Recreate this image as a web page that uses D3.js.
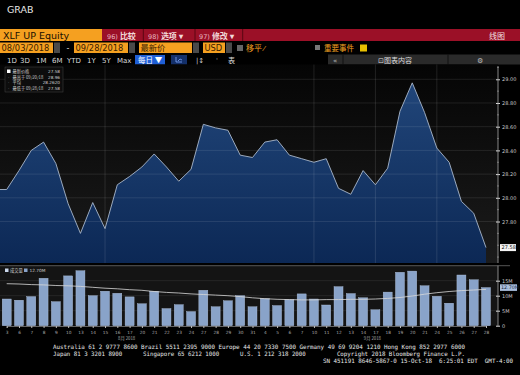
<!DOCTYPE html>
<html lang="zh">
<head>
    <meta charset="UTF-8">
    <title>XLF UP Equity</title>
    <script src="https://d3js.org/d3.v7.min.js"></script>
    <style>
        body { margin: 0; background: #000; }
        svg { display: block; }
    </style>
</head>
<body>
    <svg></svg>
    <script>
        // chart data
        const dates = [
            "2018-08-03", "2018-08-06", "2018-08-07", "2018-08-08", "2018-08-09", "2018-08-10",
            "2018-08-13", "2018-08-14", "2018-08-15", "2018-08-16", "2018-08-17",
            "2018-08-20", "2018-08-21", "2018-08-22", "2018-08-23", "2018-08-24",
            "2018-08-27", "2018-08-28", "2018-08-29", "2018-08-30", "2018-08-31",
            "2018-09-04", "2018-09-05", "2018-09-06", "2018-09-07",
            "2018-09-10", "2018-09-11", "2018-09-12", "2018-09-13", "2018-09-14",
            "2018-09-17", "2018-09-18", "2018-09-19", "2018-09-20", "2018-09-21",
            "2018-09-24", "2018-09-25", "2018-09-26", "2018-09-27", "2018-09-28"
        ];
        const prices = [
            28.07, 28.23, 28.40, 28.47, 28.29, 27.95,
            27.70, 27.96, 27.74, 28.11, 28.18,
            28.26, 28.37, 28.26, 28.14, 28.24,
            28.62, 28.59, 28.57, 28.36, 28.34,
            28.47, 28.49, 28.36, 28.33,
            28.30, 28.33, 28.08, 28.03, 28.23,
            28.11, 28.25, 28.73, 28.97, 28.72,
            28.42, 28.30, 27.97, 27.87, 27.58
        ];
        // volume, millions of shares
        const volumes = [
            8.9, 8.5, 9.7, 15.8, 8.0, 16.6,
            18.3, 10.0, 11.5, 10.8, 9.6,
            7.3, 11.5, 5.7, 7.0, 4.7,
            11.8, 6.3, 8.3, 10.0, 6.3,
            9.0, 6.7, 8.7, 10.6,
            8.9, 6.9, 13.0, 10.7, 9.3,
            5.3, 11.2, 17.8, 18.2, 13.3,
            9.8, 7.5, 16.9, 15.3, 12.7
        ];
        // volume moving average as drawn
        const volumeAvg = [
            14.0, 13.9, 13.7, 13.6, 13.4, 13.3,
            13.1, 12.8, 12.5, 12.3, 12.0,
            11.8, 11.4, 11.1, 10.9, 10.6,
            10.4, 10.2, 10.0, 9.7, 9.3,
            9.0, 8.8, 8.7, 8.6,
            8.6, 8.7, 8.7, 8.8, 8.8,
            8.9, 9.1, 9.4, 9.9, 10.5,
            11.0, 11.4, 11.7, 11.9, 12.1
        ];
        const priceTicks = [27.8, 28.0, 28.2, 28.4, 28.6, 28.8, 29.0];
        const volumeTicks = [0, 5, 10, 15];
        const volumeTickLabels = ["0", "5M", "10M", "15M"];
        const gridDates = ["2018-08-15", "2018-09-10", "2018-09-17", "2018-09-24"];
        const monthLabelDates = ["2018-08-17", "2018-09-17"];
        const monthLabelTexts = ["8月 2018", "9月 2018"];
        const legendNames = ["最新价格", "最高于 09/20/18", "平均", "最低于 09/28/18"];
        const legendValues = ["27.58", "28.96", "28.2620", "27.58"];
        const footerLines = [
            "Australia 61 2 9777 8600 Brazil 5511 2395 9000 Europe 44 20 7330 7500 Germany 49 69 9204 1210 Hong Kong 852 2977 6000",
            "Japan 81 3 3201 8900      Singapore 65 6212 1000      U.S. 1 212 318 2000         Copyright 2018 Bloomberg Finance L.P.",
            "SN 451191 8646-5867-0 15-Oct-18  6:25:01 EDT  GMT-4:00"
        ];

        const width = 520;
        const height = 375;
        const axisX = 498;
        const cjk = "'Noto Sans CJK SC', sans-serif";
        const sans = "'DejaVu Sans', sans-serif";
        const mono = "'DejaVu Sans Mono', monospace";

        const svg = d3.select("svg")
            .attr("width", width)
            .attr("height", height)
            .style("background", "#000");

        const parse = d3.timeParse("%Y-%m-%d");
        const data = dates.map((d, i) => ({
            date: d, day: d3.timeFormat("%-d")(parse(d)),
            price: prices[i], volume: volumes[i], avg: volumeAvg[i]
        }));

        const x = d3.scalePoint().domain(dates).range([6.7, 486]);
        const y = d3.scaleLinear().domain([27.45, 29.129]).range([263, 64]);
        const yv = d3.scaleLinear().domain([0, 20]).range([325.7, 265.7]);

        const defs = svg.append("defs");
        const bg = defs.append("linearGradient").attr("id", "bg")
            .attr("x1", 0).attr("y1", 0).attr("x2", 0).attr("y2", 1);
        bg.append("stop").attr("offset", 0).attr("stop-color", "#050505");
        bg.append("stop").attr("offset", 1).attr("stop-color", "#1b1b1b");
        const fill = defs.append("linearGradient").attr("id", "areaFill")
            .attr("gradientUnits", "userSpaceOnUse")
            .attr("x1", 0).attr("y1", 80).attr("x2", 0).attr("y2", 263);
        fill.append("stop").attr("offset", 0).attr("stop-color", "#21467a");
        fill.append("stop").attr("offset", 1).attr("stop-color", "#0c2855");

        // ---- header ----
        svg.append("text").attr("x", 7).attr("y", 13)
            .attr("font-family", sans).attr("font-size", 9.5)
            .attr("fill", "#e6e6e6").text("GRAB");

        svg.append("rect").attr("x", 0).attr("y", 29).attr("width", width).attr("height", 12)
            .attr("fill", "#9b1027");
        svg.append("rect").attr("x", 0).attr("y", 29).attr("width", 102).attr("height", 12)
            .attr("fill", "#f5a020");
        svg.append("text").attr("x", 3).attr("y", 38.8)
            .attr("font-family", sans).attr("font-size", 9.5).attr("fill", "#201000")
            .text("XLF UP Equity");
        [143.3, 195, 242.7].forEach(sx => {
            svg.append("line").attr("x1", sx).attr("x2", sx).attr("y1", 29).attr("y2", 41)
                .attr("stroke", "#5a0612").attr("stroke-width", 1);
        });
        const menu = [
            { num: "96)", label: "比较", x: 107 },
            { num: "98)", label: "选项 ▾", x: 148 },
            { num: "97)", label: "修改 ▾", x: 199 }
        ];
        menu.forEach(m => {
            const t = svg.append("text").attr("x", m.x).attr("y", 38.5)
                .attr("fill", "#f2dada").attr("font-size", 8);
            t.append("tspan").attr("font-family", sans).attr("font-size", 6.5).attr("fill", "#e8b8c0").text(m.num + " ");
            t.append("tspan").attr("font-family", cjk).attr("font-weight", "bold").text(m.label);
        });
        svg.append("text").attr("x", 489).attr("y", 38.5)
            .attr("font-family", cjk).attr("font-size", 8).attr("fill", "#f2e0e0").text("线图");

        // second row: date range & fields
        const orange = "#f5a020";
        const row2 = [
            { x: 0, w: 53, text: "08/03/2018" },
            { x: 74, w: 54, text: "09/28/2018" },
            { x: 139, w: 53, text: "最新价" },
            { x: 203, w: 22, text: "USD" }
        ];
        row2.forEach(b => {
            svg.append("rect").attr("x", b.x).attr("y", 42.5).attr("width", b.w).attr("height", 10.5)
                .attr("fill", orange);
            svg.append("text").attr("x", b.x + 1.5).attr("y", 51)
                .attr("font-family", /[\u4e00-\u9fff]/.test(b.text) ? cjk : sans)
                .attr("font-size", 8.3).attr("fill", "#3a2000").text(b.text);
        });
        [54, 129, 193, 226].forEach(gx => {
            svg.append("rect").attr("x", gx).attr("y", 42.5).attr("width", 6).attr("height", 10.5)
                .attr("fill", "#4a4a4a");
        });
        svg.append("text").attr("x", 66.5).attr("y", 51).attr("font-family", sans)
            .attr("font-size", 8).attr("fill", "#ddd").text("-");
        svg.append("rect").attr("x", 237).attr("y", 45).attr("width", 6).attr("height", 6).attr("fill", "#666");
        svg.append("text").attr("x", 246).attr("y", 51).attr("font-family", cjk)
            .attr("font-size", 8).attr("fill", orange).text("移平 ⁄");
        svg.append("rect").attr("x", 315).attr("y", 45).attr("width", 5).attr("height", 5).attr("fill", "#777");
        svg.append("text").attr("x", 324).attr("y", 51).attr("font-family", cjk)
            .attr("font-size", 7.5).attr("fill", orange).text("重要事件");
        svg.append("rect").attr("x", 360).attr("y", 44.5).attr("width", 7).attr("height", 7).attr("fill", "#e8c000");

        // third row: range buttons
        const ranges = ["1D", "3D", "1M", "6M", "YTD", "1Y", "5Y", "Max"];
        const rangeX = [7, 20, 36, 52, 67, 87, 102, 117];
        ranges.forEach((r, i) => {
            svg.append("text").attr("x", rangeX[i]).attr("y", 62.5)
                .attr("font-family", sans).attr("font-size", 7).attr("fill", "#d8d8d8").text(r);
        });
        svg.append("rect").attr("x", 135).attr("y", 55).attr("width", 30).attr("height", 9.5).attr("fill", "#1f5fd6");
        svg.append("text").attr("x", 138).attr("y", 62.8).attr("font-family", cjk)
            .attr("font-size", 7.5).attr("fill", "#fff").text("每日 ▼");
        svg.append("rect").attr("x", 171).attr("y", 55).attr("width", 16).attr("height", 9.5).attr("fill", "#14306a");
        svg.append("path").attr("d", "M176,57 v5 h6 M178,61 l2,-2 l2,1")
            .attr("fill", "none").attr("stroke", "#7fa8ff").attr("stroke-width", 0.8);
        svg.append("text").attr("x", 196).attr("y", 62.5).attr("font-family", sans)
            .attr("font-size", 7).attr("fill", "#ccc").text("|↕");
        svg.append("text").attr("x", 216).attr("y", 62.5).attr("font-family", sans)
            .attr("font-size", 7).attr("fill", "#888").text("'");
        svg.append("text").attr("x", 228).attr("y", 62.8).attr("font-family", cjk)
            .attr("font-size", 7).attr("fill", "#ddd").text("表");
        svg.append("rect").attr("x", 328).attr("y", 54.5).attr("width", 192).attr("height", 10).attr("fill", "#2a2a2a");
        [343, 448].forEach(sx => {
            svg.append("line").attr("x1", sx).attr("x2", sx).attr("y1", 54.5).attr("y2", 64.5)
                .attr("stroke", "#111");
        });
        svg.append("text").attr("x", 333).attr("y", 62.5).attr("font-family", sans)
            .attr("font-size", 7).attr("fill", "#bbb").text("«");
        svg.append("text").attr("x", 378).attr("y", 62.5).attr("font-family", cjk)
            .attr("font-size", 7).attr("fill", "#ddd").text("⊡图表内容");
        svg.append("text").attr("x", 477).attr("y", 62.8).attr("font-family", sans)
            .attr("font-size", 7).attr("fill", "#bbb").text("⚙");

        // ---- price panel ----
        svg.append("rect").attr("x", 0).attr("y", 64.5).attr("width", axisX).attr("height", 198.5)
            .attr("fill", "url(#bg)");

        // the series is drawn from the left edge of the panel
        const seriesX = (d, i) => i === 0 ? 0 : x(d.date);
        const priceSeries = [data[0], ...data];

        const area = d3.area()
            .x(seriesX)
            .y0(263)
            .y1(d => y(d.price));
        svg.append("path").datum(priceSeries)
            .attr("d", area)
            .attr("fill", "url(#areaFill)");

        // grid
        svg.append("g").selectAll("line").data(priceTicks).join("line")
            .attr("x1", 0).attr("x2", axisX)
            .attr("y1", d => y(d)).attr("y2", d => y(d))
            .attr("stroke", "#ffffff").attr("stroke-opacity", 0.12).attr("stroke-width", 0.8);
        svg.append("g").selectAll("line").data(gridDates).join("line")
            .attr("x1", d => x(d)).attr("x2", d => x(d))
            .attr("y1", 64.5).attr("y2", 263)
            .attr("stroke", "#ffffff").attr("stroke-opacity", 0.14).attr("stroke-width", 0.8);

        const line = d3.line()
            .x(seriesX)
            .y(d => y(d.price));
        svg.append("path").datum(priceSeries)
            .attr("d", line)
            .attr("fill", "none")
            .attr("stroke", "#a9b8cc")
            .attr("stroke-width", 0.9);

        // price axis
        const yAxis = svg.append("g").attr("transform", `translate(${axisX},0)`)
            .call(d3.axisRight(y).tickValues(priceTicks).tickFormat(d3.format(".2f"))
                .tickSize(2).tickPadding(2));
        yAxis.select(".domain").remove();
        yAxis.selectAll(".tick line").attr("stroke", "#ddd").attr("x1", -2);
        yAxis.selectAll(".tick text").attr("fill", "#c8c8c8")
            .attr("font-family", sans).attr("font-size", 5);
        svg.append("g").selectAll("line")
            .data(d3.range(27.5, 29.1, 0.1).filter(v => !priceTicks.some(t => Math.abs(t - v) < 0.01)))
            .join("line")
            .attr("x1", axisX - 1).attr("x2", axisX + 1)
            .attr("y1", d => y(d)).attr("y2", d => y(d))
            .attr("stroke", "#999").attr("stroke-width", 0.6);
        svg.append("line").attr("x1", axisX).attr("x2", axisX).attr("y1", 66).attr("y2", 263)
            .attr("stroke", "#aaa").attr("stroke-width", 0.8);

        const last = data[data.length - 1];
        svg.append("rect").attr("x", 500).attr("y", y(last.price) - 3.5)
            .attr("width", 16).attr("height", 7).attr("fill", "#f4f4f4");
        svg.append("text").attr("x", 501.5).attr("y", y(last.price) + 1.8)
            .attr("font-family", sans).attr("font-size", 5).attr("fill", "#111")
            .text(d3.format(".2f")(last.price));

        // legend box
        svg.append("rect").attr("x", 5).attr("y", 67).attr("width", 58).attr("height", 25)
            .attr("fill", "#0d0d0d").attr("stroke", "#444").attr("stroke-width", 0.5);
        legendNames.forEach((n, i) => {
            const ly = 73 + i * 5.6;
            if (i === 0) {
                svg.append("rect").attr("x", 7).attr("y", ly - 3.5).attr("width", 3.5).attr("height", 3.5)
                    .attr("fill", "#fff");
            } else {
                svg.append("text").attr("x", 8).attr("y", ly).attr("font-family", sans)
                    .attr("font-size", 4).attr("fill", "#999").text("·");
            }
            svg.append("text").attr("x", 12.5).attr("y", ly).attr("font-family", cjk)
                .attr("font-size", 4.2).attr("fill", "#cfcfcf").text(n);
            svg.append("text").attr("x", 60).attr("y", ly).attr("text-anchor", "end")
                .attr("font-family", sans).attr("font-size", 4.2).attr("fill", "#cfcfcf")
                .text(legendValues[i]);
        });

        // ---- volume panel ----
        svg.append("rect").attr("x", 0).attr("y", 265.7).attr("width", axisX).attr("height", 60)
            .attr("fill", "#141414");
        svg.append("line").attr("x1", 0).attr("x2", 510).attr("y1", 265.7).attr("y2", 265.7)
            .attr("stroke", "#6a6a6a").attr("stroke-width", 0.8);
        svg.append("g").selectAll("line").data(volumeTicks.slice(1)).join("line")
            .attr("x1", 0).attr("x2", axisX)
            .attr("y1", d => yv(d)).attr("y2", d => yv(d))
            .attr("stroke", "#ffffff").attr("stroke-opacity", 0.1).attr("stroke-width", 0.8);

        svg.append("g").selectAll("rect").data(data).join("rect")
            .attr("x", d => x(d.date) - 4.5)
            .attr("width", 9)
            .attr("y", d => yv(d.volume))
            .attr("height", d => yv(0) - yv(d.volume))
            .attr("fill", "#89a3c9")
            .attr("stroke", "#b4c6e0")
            .attr("stroke-width", 0.4);

        const avgLine = d3.line()
            .x(d => x(d.date))
            .y(d => yv(d.avg))
            .curve(d3.curveMonotoneX);
        svg.append("path").datum(data)
            .attr("d", avgLine)
            .attr("fill", "none")
            .attr("stroke", "#d9d9d9")
            .attr("stroke-width", 0.8);

        const vAxis = svg.append("g").attr("transform", `translate(${axisX},0)`)
            .call(d3.axisRight(yv).tickValues(volumeTicks)
                .tickFormat((d, i) => volumeTickLabels[i]).tickSize(2).tickPadding(2));
        vAxis.select(".domain").remove();
        vAxis.selectAll(".tick line").attr("stroke", "#ddd").attr("x1", -2);
        vAxis.selectAll(".tick text").attr("fill", "#c8c8c8")
            .attr("font-family", sans).attr("font-size", 5);
        svg.append("line").attr("x1", axisX).attr("x2", axisX).attr("y1", 265.7).attr("y2", 326)
            .attr("stroke", "#aaa").attr("stroke-width", 0.8);

        svg.append("rect").attr("x", 500).attr("y", yv(last.volume) - 3.3)
            .attr("width", 17).attr("height", 6.6).attr("fill", "#a9bedd");
        svg.append("text").attr("x", 501).attr("y", yv(last.volume) + 1.8)
            .attr("font-family", sans).attr("font-size", 4.8).attr("fill", "#1a2a44")
            .text(d3.format(".2f")(last.volume) + "M");

        // volume legend
        svg.append("rect").attr("x", 5).attr("y", 268.5).attr("width", 3.5).attr("height", 3.5).attr("fill", "#c9d6ea");
        svg.append("text").attr("x", 10).attr("y", 272.3).attr("font-family", cjk)
            .attr("font-size", 4.3).attr("fill", "#cfcfcf").text("成交量");
        svg.append("rect").attr("x", 24).attr("y", 268.5).attr("width", 3.5).attr("height", 3.5).attr("fill", "#89a3c9");
        svg.append("text").attr("x", 29.5).attr("y", 272.3).attr("font-family", sans)
            .attr("font-size", 4.3).attr("fill", "#cfcfcf").text(d3.format(".2f")(last.volume) + "M");

        // date axis
        const xAxis = svg.append("g").attr("transform", "translate(0,326)")
            .call(d3.axisBottom(x).tickFormat((d, i) => data[i].day).tickSize(2).tickPadding(3));
        xAxis.select(".domain").attr("stroke", "#aaa").attr("stroke-width", 0.6);
        xAxis.selectAll(".tick line").attr("stroke", "#bbb");
        xAxis.selectAll(".tick text").attr("fill", "#a8a8a8")
            .attr("font-family", sans).attr("font-size", 4.3);
        svg.append("g").selectAll("text").data(monthLabelDates).join("text")
            .attr("x", d => x(d) - 3)
            .attr("y", 339.5)
            .attr("text-anchor", "middle")
            .attr("font-family", cjk).attr("font-size", 4.3).attr("fill", "#a8a8a8")
            .text((d, i) => monthLabelTexts[i]);

        // ---- footer ----
        const footerPos = [
            { x: 53, y: 348.5, len: 412 },
            { x: 53, y: 355.5, len: 412 },
            { x: 323, y: 363, len: 190 }
        ];
        footerLines.forEach((t, i) => {
            svg.append("text")
                .attr("x", footerPos[i].x).attr("y", footerPos[i].y)
                .attr("font-family", mono).attr("font-size", 6)
                .attr("fill", "#e8e8e8")
                .attr("textLength", footerPos[i].len)
                .attr("lengthAdjust", "spacingAndGlyphs")
                .attr("xml:space", "preserve")
                .style("white-space", "pre")
                .text(t);
        });
    </script>
</body>
</html>
